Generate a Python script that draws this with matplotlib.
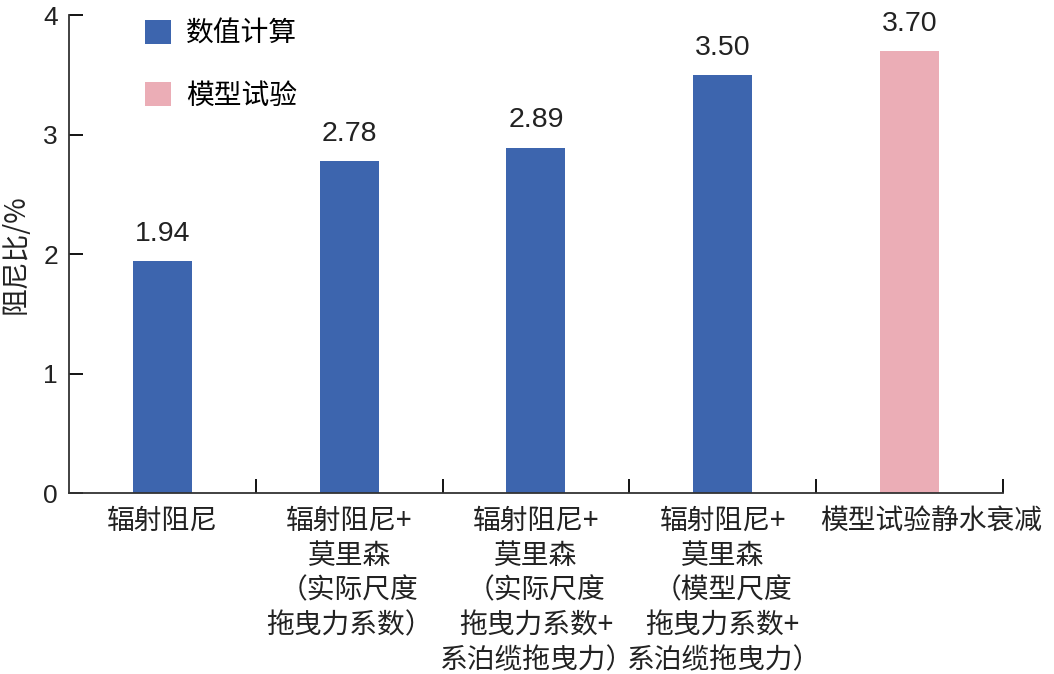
import matplotlib.pyplot as plt
import matplotlib.transforms as mtransforms
import numpy as np

plt.rcParams['font.family'] = ['Liberation Sans', 'Noto Sans CJK SC', 'DejaVu Sans']

# data
categories = [
    "辐射阻尼",
    "辐射阻尼+\n莫里森\n（实际尺度\n拖曳力系数）",
    "辐射阻尼+\n莫里森\n（实际尺度\n拖曳力系数+\n系泊缆拖曳力）",
    "辐射阻尼+\n莫里森\n（模型尺度\n拖曳力系数+\n系泊缆拖曳力）",
    "模型试验静水衰减",
]
damping = [1.94, 2.78, 2.89, 3.50, 3.70]
is_test = [False, False, False, False, True]

BLUE = "#3d65ae"
PINK = "#ebadb6"
CJK = ['Noto Sans CJK SC', 'DejaVu Sans']

fig = plt.figure(figsize=(10.54, 6.74), dpi=100)
ax = fig.add_axes([0.0655, 0.2685, 0.886, 0.709])

x = np.arange(len(categories))
colors = [PINK if t else BLUE for t in is_test]
ax.bar(x, damping, width=0.316, color=colors, zorder=2)

for xi, v in zip(x, damping):
    ax.text(xi, v + 0.12, f"{v:.2f}", ha="center", va="bottom", fontsize=20.5,
            color="#222222")

# legend handles
ax.bar([0], [0], color=BLUE, label="数值计算")
ax.bar([0], [0], color=PINK, label="模型试验")
ax.legend(loc="upper left", bbox_to_anchor=(0.081, 0.992), frameon=False,
          borderpad=0, borderaxespad=0,
          handlelength=0.95, handleheight=0.95,
          labelspacing=1.15, handletextpad=0.55,
          prop={'family': CJK, 'size': 20})

ax.set_xlim(-0.5, len(categories) - 0.5)
ax.set_ylim(0, 4)
ax.set_yticks([0, 1, 2, 3, 4])
ax.set_xticks(x)
ax.set_xticklabels(categories, fontsize=20, linespacing=1.22, family=CJK,
                   color="#222222")
ax.set_xticks(np.arange(0.5, len(categories), 1.0), minor=True)
ax.tick_params(axis="x", which="major", length=0, pad=9)
ax.tick_params(axis="x", which="minor", direction="in", length=10, width=1.3)
ax.tick_params(axis="y", direction="in", length=10, width=1.3, labelsize=19,
               pad=8, labelcolor="#222222")

# last label sits a bit right of its bar in the reference
last = ax.get_xticklabels()[-1]
last.set_transform(last.get_transform() +
                   mtransforms.ScaledTranslation(0.22, 0, fig.dpi_scale_trans))

for s in ["top", "right"]:
    ax.spines[s].set_visible(False)
for s in ["left", "bottom"]:
    ax.spines[s].set_linewidth(1.3)
    ax.spines[s].set_color("#333333")

ax.set_ylabel("阻尼比/%", fontsize=20, family=CJK, color="#222222")
ax.yaxis.set_label_coords(-0.041, 0.5)

fig.savefig("out.png", dpi=100)
